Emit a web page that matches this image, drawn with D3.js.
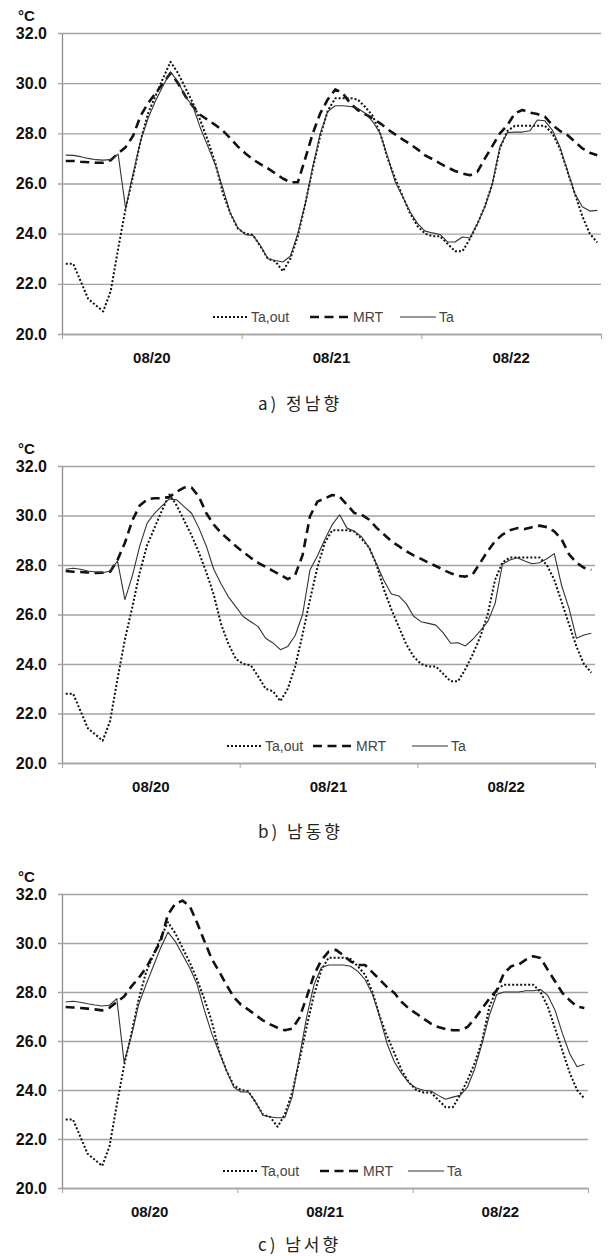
<!DOCTYPE html>
<html>
<head>
<meta charset="utf-8">
<script src="https://d3js.org/d3.v7.min.js"></script>
<style>
  body { margin: 0; background: white; }
  svg { display: block; }
  .tick text { font-family: 'Liberation Sans', Arial, sans-serif; }
</style>
</head>
<body>
<div id="chart"></div>
<script>
// categories and ticks
const days = ['08/20', '08/21', '08/22']
const hoursPerDay = 24
const yTicks = [20, 22, 24, 26, 28, 30, 32]
const seriesNames = ['Ta,out', 'MRT', 'Ta']
const captions = ['a) 정남향', 'b) 남동향', 'c) 남서향']

// hourly outdoor air temperature, same in all three panels
const taOut = [
  22.8, 22.8, 22.1, 21.4, 21.15, 20.9, 21.7, 23.4, 25.0, 26.3, 27.7, 28.8, 29.5, 30.2, 30.85, 30.4, 29.8, 29.2, 28.5, 27.7, 26.8, 25.6, 24.8, 24.2,
  24.0, 23.95, 23.5, 23.0, 22.9, 22.5, 23.0, 23.9, 25.2, 26.6, 27.9, 28.9, 29.4, 29.4, 29.4, 29.35, 29.05, 28.7, 28.0, 27.0, 26.2, 25.5, 24.8, 24.3,
  24.0, 23.9, 23.9, 23.6, 23.3, 23.3, 23.8, 24.4, 25.1, 26.0, 27.4, 28.1, 28.3, 28.3, 28.3, 28.3, 28.3, 28.0, 27.4, 26.5, 25.6, 24.7, 24.0, 23.65
]

// a) south
const mrtA = [
  26.9, 26.9, 26.87, 26.85, 26.83, 26.83, 26.93, 27.2, 27.45, 27.9, 28.7, 29.2, 29.6, 30.0, 30.4, 30.0, 29.47, 29.07, 28.73, 28.53, 28.33, 28.1, 27.8, 27.47,
  27.2, 26.96, 26.77, 26.6, 26.4, 26.2, 26.05, 26.05, 27.0, 28.0, 28.8, 29.35, 29.75, 29.6, 29.2, 28.93, 28.76, 28.6, 28.4, 28.16, 27.96, 27.76, 27.57, 27.36,
  27.12, 26.97, 26.8, 26.64, 26.5, 26.4, 26.33, 26.47, 27.0, 27.5, 28.0, 28.33, 28.8, 28.93, 28.83, 28.77, 28.67, 28.33, 28.1, 27.93, 27.67, 27.4, 27.23, 27.13
]
const taA = [
  27.13, 27.12, 27.07, 27.0, 26.95, 26.93, 26.95, 27.17, 25.0, 26.4, 27.7, 28.6, 29.3, 29.9, 30.45, 30.05, 29.45, 29.07, 28.2, 27.47, 26.73, 25.8, 24.8, 24.23,
  23.96, 23.93, 23.53, 23.0, 22.93, 22.87, 23.1, 24.0, 25.2, 26.67, 28.0, 28.87, 29.1, 29.1, 29.07, 29.0, 28.8, 28.47, 28.0, 27.07, 26.07, 25.47, 24.87, 24.4,
  24.1, 24.03, 23.97, 23.67, 23.67, 23.87, 23.83, 24.4, 25.07, 26.0, 27.47, 28.03, 28.05, 28.05, 28.1, 28.53, 28.5, 28.13, 27.47, 26.53, 25.6, 25.07, 24.9, 24.93
]

// b) south-east
const mrtB = [
  27.76, 27.73, 27.72, 27.7, 27.68, 27.69, 27.73, 28.2, 28.9, 29.8, 30.4, 30.65, 30.7, 30.7, 30.75, 30.96, 31.13, 31.13, 30.76, 30.09, 29.63, 29.29, 29.03, 28.76,
  28.52, 28.29, 28.09, 27.93, 27.76, 27.6, 27.43, 27.6, 28.4, 29.97, 30.56, 30.69, 30.83, 30.76, 30.43, 30.1, 30.03, 29.83, 29.5, 29.23, 28.96, 28.76, 28.56, 28.39,
  28.25, 28.09, 27.96, 27.8, 27.67, 27.56, 27.53, 27.63, 28.09, 28.56, 28.96, 29.23, 29.4, 29.49, 29.45, 29.53, 29.59, 29.53, 29.36, 29.03, 28.43, 28.09, 27.89, 27.8
]
const taB = [
  27.83, 27.87, 27.83, 27.76, 27.72, 27.69, 27.76, 28.16, 26.6, 27.56, 28.76, 29.69, 30.09, 30.39, 30.67, 30.63, 30.36, 30.09, 29.49, 28.76, 27.83, 27.23, 26.7, 26.31,
  25.91, 25.71, 25.51, 25.04, 24.85, 24.58, 24.71, 25.15, 26.0, 27.8, 28.36, 29.03, 29.63, 30.03, 29.49, 29.36, 29.13, 28.69, 28.03, 27.36, 26.83, 26.75, 26.44, 25.93,
  25.71, 25.64, 25.57, 25.26, 24.84, 24.86, 24.73, 25.0, 25.34, 25.71, 26.44, 28.03, 28.2, 28.29, 28.16, 28.05, 28.09, 28.25, 28.46, 27.16, 26.24, 25.04, 25.17, 25.24
]

// c) south-west
const mrtC = [
  27.39, 27.37, 27.35, 27.32, 27.29, 27.25, 27.36, 27.59, 27.82, 28.23, 28.57, 28.98, 29.52, 30.07, 31.16, 31.6, 31.73, 31.5, 30.82, 30.07, 29.35, 28.84, 28.3, 27.8,
  27.48, 27.28, 27.06, 26.84, 26.68, 26.54, 26.44, 26.5, 26.95, 27.8, 28.7, 29.3, 29.65, 29.72, 29.5, 29.25, 29.1, 29.1, 28.8, 28.5, 28.2, 27.96, 27.59, 27.32,
  27.12, 26.91, 26.71, 26.57, 26.49, 26.44, 26.44, 26.57, 26.91, 27.32, 27.73, 28.07, 28.77, 29.05, 29.12, 29.32, 29.46, 29.39, 28.9, 28.43, 27.96, 27.66, 27.41, 27.35
]
const taC = [
  27.59, 27.62, 27.58, 27.52, 27.47, 27.43, 27.46, 27.73, 25.14, 26.2, 27.5, 28.3, 29.05, 29.8, 30.44, 30.07, 29.52, 28.98, 28.3, 27.25, 26.3, 25.55, 24.8, 24.12,
  23.92, 23.92, 23.51, 22.97, 22.9, 22.87, 22.87, 23.71, 25.35, 27.0, 28.3, 29.0, 29.1, 29.1, 29.1, 29.05, 28.84, 28.5, 27.9, 26.98, 25.89, 25.14, 24.67, 24.29,
  24.08, 23.99, 23.96, 23.78, 23.62, 23.71, 23.78, 24.12, 24.87, 25.89, 27.05, 27.9, 28.0, 28.0, 28.0, 28.05, 28.05, 28.1, 27.86, 27.25, 26.3, 25.48, 24.95, 25.05
]

// layout of the three stacked panels
const W = 610
const H = 1256
const plotLeft = 62
const panels = [
  { mrt: mrtA, ta: taA, top: 33, bottom: 334, right: 601, captionY: 410, legendX: [213, 310, 400] },
  { mrt: mrtB, ta: taB, top: 466, bottom: 763, right: 595, captionY: 838, legendX: [227, 313, 412] },
  { mrt: mrtC, ta: taC, top: 894, bottom: 1188, right: 588, captionY: 1251, legendX: [223, 320, 408] }
]

const styles = [
  { stroke: '#111', width: 2, dash: '2,2', legendLen: 35 },
  { stroke: '#111', width: 2.6, dash: '9,5.5', legendLen: 40 },
  { stroke: '#333', width: 1.1, dash: null, legendLen: 36 }
]

const svg = d3.select('#chart').append('svg')
  .attr('width', W)
  .attr('height', H)
  .style('background', 'white')

const fmt = d3.format('.1f')

panels.forEach((p, pi) => {
  const x = d3.scaleLinear()
    .domain([0, hoursPerDay * days.length])
    .range([plotLeft, p.right])
  const y = d3.scaleLinear()
    .domain([20, 32])
    .range([p.bottom, p.top])
  const band = d3.scaleBand()
    .domain(days)
    .range([plotLeft, p.right])

  const g = svg.append('g')

  // y axis with gridlines
  const yAxis = g.append('g')
    .attr('transform', `translate(${plotLeft},0)`)
    .call(d3.axisLeft(y)
      .tickValues(yTicks)
      .tickFormat(fmt)
      .tickSizeInner(-(p.right - plotLeft))
      .tickSizeOuter(0)
      .tickPadding(15))
  yAxis.select('.domain').attr('stroke', '#8c8c8c').attr('stroke-width', 1.3)
  yAxis.selectAll('.tick line')
    .attr('x1', -4)
    .attr('stroke', '#a3a3a3')
    .attr('stroke-width', 1.3)
  yAxis.selectAll('.tick text')
    .attr('fill', '#111')
    .attr('font-size', 16)
    .attr('font-weight', 'bold')

  // x axis: line with ticks at day boundaries
  const xAxis = g.append('g')
    .attr('transform', `translate(0,${p.bottom})`)
    .call(d3.axisBottom(x)
      .tickValues(days.map((d, i) => i * hoursPerDay).concat(hoursPerDay * days.length))
      .tickFormat('')
      .tickSizeInner(5)
      .tickSizeOuter(0))
  xAxis.select('.domain').attr('stroke', '#a3a3a3').attr('stroke-width', 1.3)
  xAxis.selectAll('.tick line').attr('stroke', '#a3a3a3')

  // day labels centred in each day
  const dayAxis = g.append('g')
    .attr('transform', `translate(0,${p.bottom})`)
    .call(d3.axisBottom(band).tickSize(0).tickPadding(18))
  dayAxis.select('.domain').remove()
  dayAxis.selectAll('.tick text')
    .attr('fill', '#111')
    .attr('font-size', 15)
    .attr('font-weight', 'bold')

  // unit label
  g.append('text')
    .attr('x', 18)
    .attr('y', p.top - 12)
    .attr('font-family', "'Liberation Sans', Arial, sans-serif")
    .attr('font-size', 15)
    .attr('font-weight', 'bold')
    .attr('fill', '#111')
    .text('°C')

  // series lines
  const line = d3.line()
    .x((d, i) => x(i + 0.5))
    .y(d => y(d))
  const series = [taOut, p.mrt, p.ta]
  series.forEach((values, si) => {
    const s = styles[si]
    g.append('path')
      .datum(values)
      .attr('fill', 'none')
      .attr('stroke', s.stroke)
      .attr('stroke-width', s.width)
      .attr('stroke-dasharray', s.dash)
      .attr('stroke-linejoin', 'round')
      .attr('d', line)
  })

  // legend
  const ly = p.bottom - 17
  seriesNames.forEach((name, si) => {
    const s = styles[si]
    const lx = p.legendX[si]
    g.append('line')
      .attr('x1', lx)
      .attr('x2', lx + s.legendLen)
      .attr('y1', ly)
      .attr('y2', ly)
      .attr('stroke', s.stroke)
      .attr('stroke-width', s.width)
      .attr('stroke-dasharray', s.dash)
    g.append('text')
      .attr('x', lx + s.legendLen + 3)
      .attr('y', ly + 5)
      .attr('font-family', "'Liberation Sans', Arial, sans-serif")
      .attr('font-size', 14)
      .attr('fill', '#444')
      .text(name)
  })

  // caption under the panel
  g.append('text')
    .attr('x', 258)
    .attr('y', p.captionY)
    .attr('font-family', "'Noto Sans CJK KR', sans-serif")
    .attr('font-size', 17)
    .attr('letter-spacing', 3)
    .attr('fill', '#222')
    .text(captions[pi])
})
</script>
</body>
</html>
